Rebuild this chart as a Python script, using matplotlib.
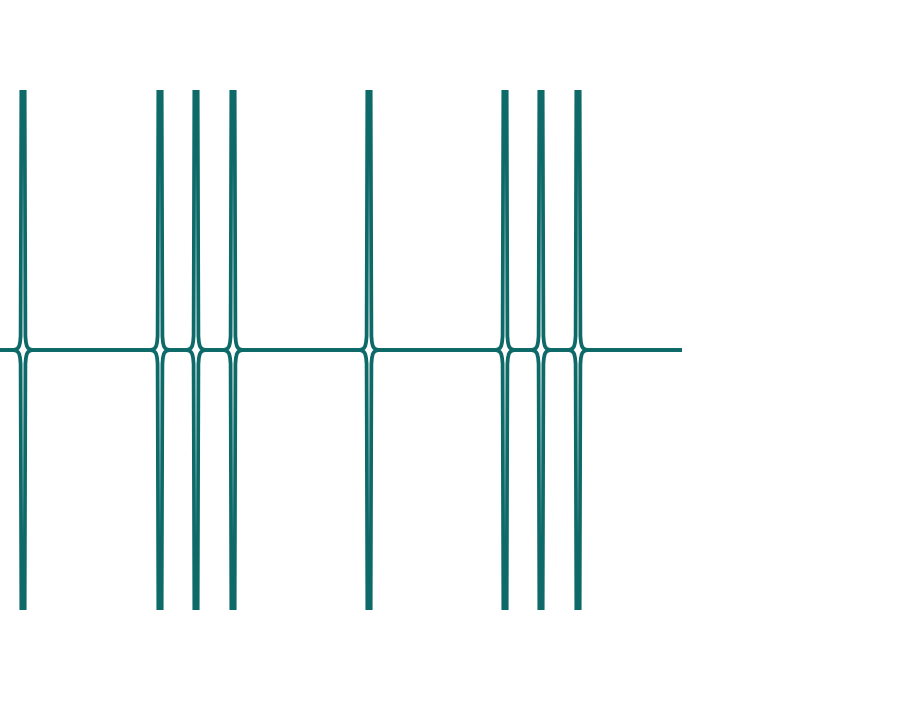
import numpy as np
import matplotlib
matplotlib.use("Agg")
import matplotlib.pyplot as plt

# pole positions (x, in px-like units)
poles = [23, 160, 196, 233, 369, 505, 541, 578]
x_start = 0
x_end = 682

# shape of one spike, left side of a pole (offset from pole, height)
spike_dx = [-10, -7, -5, -3.8, -2.9, -2.4, -1.2]
spike_dy = [0, 0.6, 2, 4, 8, 14, 420]

line_color = "#0d6a69"


def build_curve(sign):
    xs = [x_start]
    ys = [0]
    for p in poles:
        # left branch
        for dx, dy in zip(spike_dx, spike_dy):
            xs.append(p + dx)
            ys.append(-sign * dy)
        xs.append(np.nan)
        ys.append(np.nan)
        # right branch, mirrored
        for dx, dy in zip(spike_dx[::-1], spike_dy[::-1]):
            xs.append(p - dx)
            ys.append(sign * dy)
    xs.append(x_end)
    ys.append(0)
    return np.array(xs, dtype=float), np.array(ys, dtype=float)


fig = plt.figure(figsize=(9.03, 7.01), dpi=100)
ax = fig.add_axes([0, 91 / 701, 1, 520 / 701])

for s in (1, -1):
    x, y = build_curve(s)
    ax.plot(x, y, color=line_color, lw=2.7, solid_capstyle="butt",
            solid_joinstyle="round")

ax.set_xlim(0, 903)
ax.set_ylim(-260, 260)
ax.axis("off")

fig.savefig("out.png", dpi=100)
